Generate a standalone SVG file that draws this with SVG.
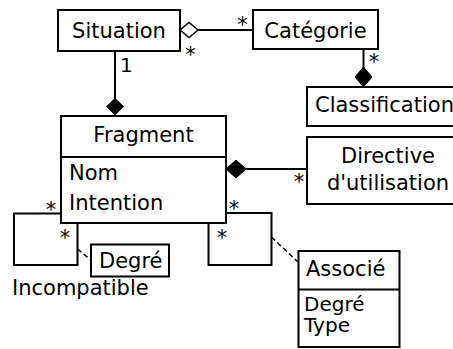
<svg xmlns="http://www.w3.org/2000/svg" width="453" height="349" viewBox="0 0 453 349">
  <style>
    .box { fill: #fff; stroke: #000; stroke-width: 2; }
    .edge { fill: none; stroke: #000; stroke-width: 2; }
    .dash { fill: none; stroke: #000; stroke-width: 1.5; stroke-dasharray: 5 3; }
    .solid { fill: #000; stroke: #000; stroke-width: 1; }
    .hollow { fill: #fff; stroke: #000; stroke-width: 1.5; }
    text { font-family: "DejaVu Sans", Verdana, sans-serif; font-size: 21px; fill: #000; }
    .c { text-anchor: middle; }
    .attr { font-size: 20px; }
  </style>
  <rect width="453" height="349" fill="#fff"/>

  <!-- associations -->
  <g id="connectors">
    <line class="edge" x1="198" y1="30" x2="253" y2="30"/>
    <polygon class="hollow" points="180,30 189,22.5 198,30 189,37.5"/>
    <text x="242.5" y="32" class="c">*</text>
    <text x="190.5" y="62" class="c">*</text>

    <line class="edge" x1="115" y1="51" x2="115" y2="99"/>
    <polygon class="solid" points="115,98.5 123.5,106.5 115,115 106.5,106.5"/>
    <text x="120" y="72" style="font-size:20px">1</text>

    <line class="edge" x1="363.5" y1="49" x2="363.5" y2="68"/>
    <polygon class="solid" points="363.5,67 372,77 363.5,87 355,77"/>
    <text x="374" y="69" class="c">*</text>

    <line class="edge" x1="245" y1="169" x2="307" y2="169"/>
    <polygon class="solid" points="226,169 236,160 246,169 236,178"/>
    <text x="299" y="189" class="c">*</text>

    <polyline class="edge" points="61,213.5 14,213.5 14,265 77.5,265 77.5,223"/>
    <text x="51" y="217" class="c">*</text>
    <text x="65" y="245" class="c">*</text>
    <line class="dash" x1="77.5" y1="249" x2="91" y2="260"/>

    <polyline class="edge" points="226,213 271.5,213 271.5,265 208.5,265 208.5,223"/>
    <text x="234" y="216" class="c">*</text>
    <text x="222" y="245" class="c">*</text>
    <line class="dash" x1="271.5" y1="237" x2="298" y2="262"/>
  </g>

  <g id="situation">
    <rect class="box" x="58" y="10" width="122" height="41"/>
    <text x="119" y="37.5" class="c">Situation</text>
  </g>

  <g id="categorie">
    <rect class="box" x="253" y="10" width="125" height="39"/>
    <text x="315.5" y="37.5" class="c">Catégorie</text>
  </g>

  <g id="classification">
    <rect class="box" x="307" y="87" width="160" height="39"/>
    <text x="315" y="112">Classification</text>
  </g>

  <g id="fragment">
    <rect class="box" x="61" y="116" width="165" height="107"/>
    <line class="edge" x1="61" y1="157" x2="226" y2="157"/>
    <text x="143.5" y="142" class="c">Fragment</text>
    <text x="69" y="180">Nom</text>
    <text x="69" y="210">Intention</text>
  </g>

  <g id="directive">
    <rect class="box" x="307" y="137" width="160" height="67"/>
    <text x="388" y="163" class="c">Directive</text>
    <text x="388" y="190" class="c">d'utilisation</text>
  </g>

  <g id="degre-incompatible">
    <rect class="box" x="91" y="244.5" width="78" height="32"/>
    <text x="99" y="268">Degré</text>
    <text x="12" y="295">Incompatible</text>
  </g>

  <g id="associe">
    <rect class="box" x="298.5" y="251" width="101" height="96"/>
    <line class="edge" x1="298.5" y1="289.5" x2="399.5" y2="289.5"/>
    <text x="306" y="276">Associé</text>
    <text x="304" y="311" class="attr">Degré</text>
    <text x="304" y="332" class="attr">Type</text>
  </g>
</svg>
